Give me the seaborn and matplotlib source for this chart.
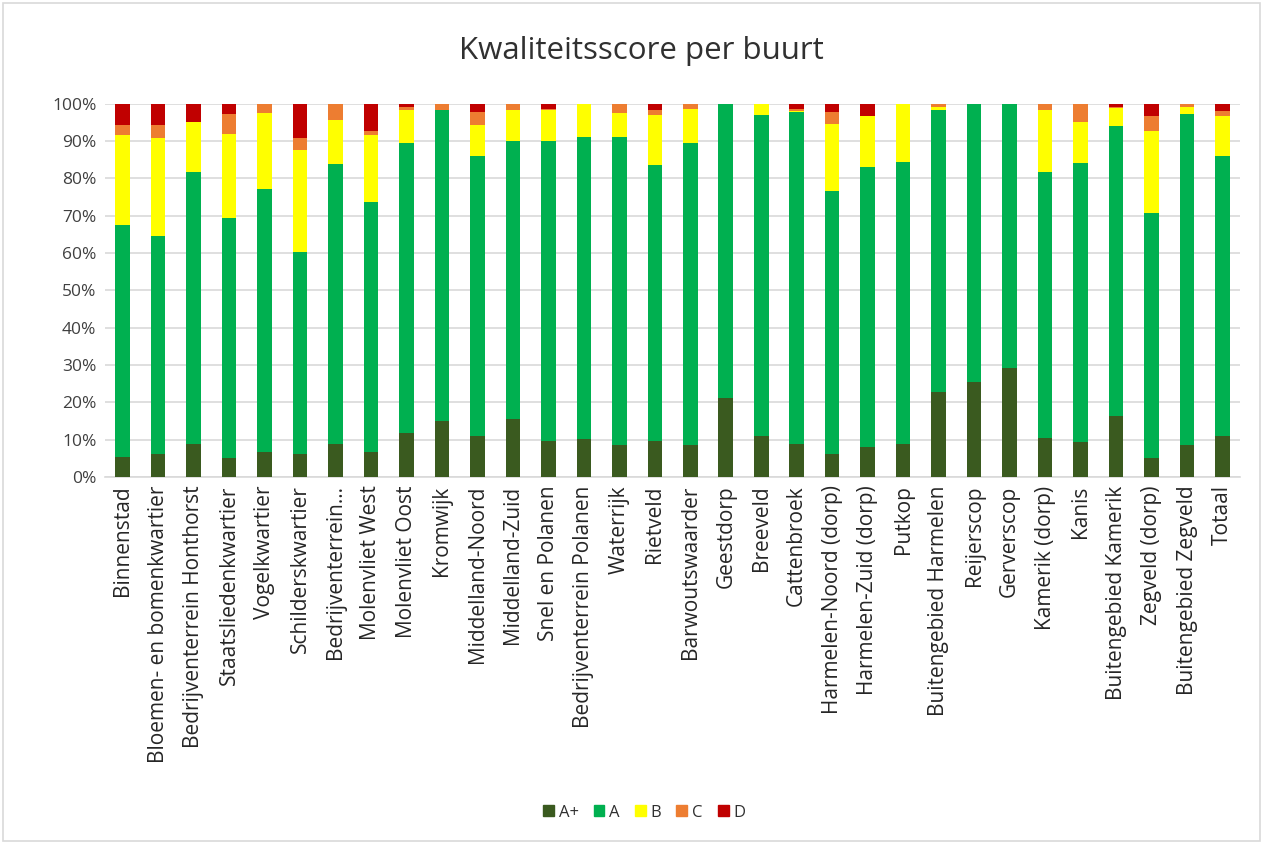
import matplotlib
matplotlib.use("Agg")
import matplotlib.pyplot as plt
import matplotlib.patches as mpatches
import seaborn as sb
import numpy as np
import pandas as pd

buurten = ["Binnenstad", "Bloemen- en bomenkwartier", "Bedrijventerrein Honthorst",
           "Staatsliedenkwartier", "Vogelkwartier", "Schilderskwartier", "Bedrijventerrein\u2026",
           "Molenvliet West", "Molenvliet Oost", "Kromwijk", "Middelland-Noord", "Middelland-Zuid",
           "Snel en Polanen", "Bedrijventerrein Polanen", "Waterrijk", "Rietveld", "Barwoutswaarder",
           "Geestdorp", "Breeveld", "Cattenbroek", "Harmelen-Noord (dorp)", "Harmelen-Zuid (dorp)",
           "Putkop", "Buitengebied Harmelen", "Reijerscop", "Gerverscop", "Kamerik (dorp)", "Kanis",
           "Buitengebied Kamerik", "Zegveld (dorp)", "Buitengebied Zegveld", "Totaal"]

# percentages per score
score_Aplus = [5.5, 6.3, 9.0, 5.2, 6.8, 6.2, 8.8, 6.8, 11.7, 15.0, 11.1, 15.5, 9.8, 10.2, 8.6, 9.8, 8.6,
               21.1, 11.1, 8.8, 6.3, 8.1, 8.8, 22.7, 25.4, 29.3, 10.4, 9.3, 16.4, 5.2, 8.6, 11.1]
score_A = [62.1, 58.4, 72.6, 64.3, 70.3, 54.2, 75.0, 67.0, 77.8, 83.4, 75.0, 74.6, 80.3, 80.8, 82.6, 73.7, 80.9,
           78.9, 85.8, 89.0, 70.2, 74.9, 75.6, 75.5, 74.6, 70.7, 71.2, 74.8, 77.5, 65.5, 88.7, 74.8]
score_B = [24.1, 26.1, 13.5, 22.5, 20.4, 27.3, 11.7, 17.7, 8.9, 0.0, 8.3, 8.3, 8.1, 9.0, 6.3, 13.5, 9.2,
           0.0, 3.1, 0.2, 18.1, 13.8, 15.6, 0.8, 0.0, 0.0, 16.8, 11.0, 4.9, 22.1, 1.9, 10.7]
score_C = [2.5, 3.4, 0.0, 5.2, 2.5, 3.1, 4.5, 1.3, 0.6, 1.6, 3.4, 1.6, 0.5, 0.0, 2.5, 1.3, 1.3,
           0.0, 0.0, 0.6, 3.2, 0.0, 0.0, 1.0, 0.0, 0.0, 1.6, 4.9, 0.3, 3.8, 0.8, 1.5]
score_D = [5.8, 5.8, 4.9, 2.8, 0.0, 9.2, 0.0, 7.2, 1.0, 0.0, 2.2, 0.0, 1.3, 0.0, 0.0, 1.7, 0.0,
           0.0, 0.0, 1.4, 2.2, 3.2, 0.0, 0.0, 0.0, 0.0, 0.0, 0.0, 0.9, 3.4, 0.0, 1.9]

scores = ["A+", "A", "B", "C", "D"]
kleuren = ["#3a5a1f", "#00b050", "#ffff00", "#ed7d31", "#c00000"]

df = pd.DataFrame({"buurt": buurten, "A+": score_Aplus, "A": score_A, "B": score_B,
                   "C": score_C, "D": score_D})
cum = df[scores].cumsum(axis=1)

plt.rcParams['font.family'] = ['Open Sans', 'DejaVu Sans']
fig = plt.figure(figsize=(12.63, 8.43), dpi=100)
ax = fig.add_axes([0.083, 0.434, 0.899, 0.443])

# stacked bars: draw cumulative totals from top level down
for s, kleur in reversed(list(zip(scores, kleuren))):
    sb.barplot(x=df["buurt"], y=cum[s], color=kleur, width=0.41, saturation=1,
               edgecolor="none", linewidth=0, ax=ax, zorder=3)

ax.set_ylim(0, 100)
ax.set_xlim(-0.5, len(buurten) - 0.5)
ax.set_yticks(np.arange(0, 101, 10))
ax.set_yticklabels([f"{v}%" for v in range(0, 101, 10)], fontsize=12.5, color="#404040")
ax.set_xticks(range(len(buurten)))
ax.set_xticklabels(buurten, rotation=90, fontsize=15, color="#262626")
ax.tick_params(axis="both", length=0, pad=6)
ax.set_xlabel("")
ax.set_ylabel("")
ax.grid(axis="y", color="#d9d9d9", linewidth=1.2, zorder=0)
ax.set_axisbelow(True)
for sp in ["top", "right", "left"]:
    ax.spines[sp].set_visible(False)
ax.spines["bottom"].set_color("#d9d9d9")
ax.spines["bottom"].set_linewidth(1.2)

fig.text(0.508, 0.94, "Kwaliteitsscore per buurt", ha="center", va="center",
         fontsize=22.5, color="#303030")

handles = [mpatches.Patch(color=k, label=s) for s, k in zip(scores, kleuren)]
fig.legend(handles=handles, loc="center", bbox_to_anchor=(0.51, 0.036), ncol=5, frameon=False,
           fontsize=12, handlelength=0.65, handleheight=0.65, handletextpad=0.3, columnspacing=0.9,
           labelcolor="#303030")

fig.patches.append(mpatches.Rectangle((0.002, 0.002), 0.996, 0.994, transform=fig.transFigure,
                                      fill=False, edgecolor="#d9d9d9", linewidth=1.2))

plt.savefig("out.png", dpi=100)
